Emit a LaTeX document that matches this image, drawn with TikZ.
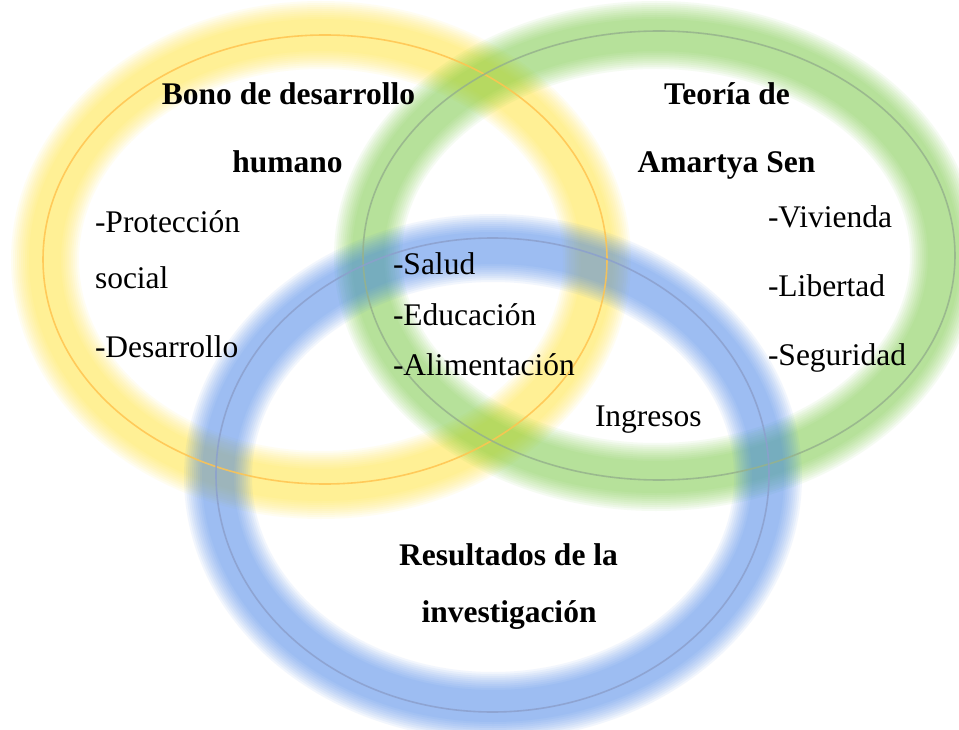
\documentclass[tikz,border=0pt]{standalone}
\usepackage{fontspec}
\setmainfont{Liberation Serif}
\definecolor{ylwglow}{RGB}{255,230,40}
\definecolor{grnglow}{RGB}{110,200,50}
\definecolor{bluglow}{RGB}{55,125,235}
\definecolor{ylwline}{RGB}{255,196,80}
\definecolor{grnline}{RGB}{150,178,140}
\definecolor{bluline}{RGB}{140,160,205}
\tikzset{
  txt/.style={inner sep=0pt, outer sep=0pt, font=\fontsize{31.5}{36}\selectfont},
  ttl/.style={txt, font=\fontsize{31.5}{36}\selectfont\bfseries, anchor=base},
  itm/.style={txt, anchor=base west},
  ringline/.style={line width=1.6pt, draw opacity=0.85}
}
\newcommand{\glowring}[5]{%
  \foreach \w in {68,64,...,32}{
    \draw[line width=\w pt, #1, draw opacity=0.064] (#2,#3) ellipse [x radius=#4, y radius=#5];
  }%
}
\begin{document}
\begin{tikzpicture}[x=1pt,y=-1pt]
\useasboundingbox (0,0) rectangle (959,730);
\fill[white] (0,0) rectangle (959,730);
% glows
\glowring{ylwglow}{321}{260}{276}{225}
\glowring{grnglow}{656}{256}{288}{221}
\glowring{bluglow}{493}{477}{275}{229}
% thin lines
\draw[ringline, ylwline] (325,259.5) ellipse [x radius=282, y radius=224.5];
\draw[ringline, grnline] (659,255.5) ellipse [x radius=296, y radius=224.5];
\draw[ringline, bluline] (492.5,475) ellipse [x radius=276.5, y radius=237];
% texts
\node[ttl] (bono1) at (288.5,105) {Bono de desarrollo};
\node[ttl] (bono2) at (287.5,173) {humano};
\node[itm] (prot) at (95,233) {-Protección};
\node[itm] (social) at (95,288) {social};
\node[itm] (desa) at (95,357) {-Desarrollo};
\node[itm] (salud) at (393,275) {-Salud};
\node[itm] (educ) at (393,325) {-Educación};
\node[itm] (alim) at (393,375) {-Alimentación};
\node[ttl] (teo1) at (727,105) {Teoría de};
\node[ttl] (teo2) at (726.5,173) {Amartya Sen};
\node[itm] (viv) at (768,228) {-Vivienda};
\node[itm] (lib) at (768,297) {-Libertad};
\node[itm] (seg) at (768,365) {-Seguridad};
\node[itm] (ing) at (595,426) {Ingresos};
\node[ttl] (res1) at (508.5,565) {Resultados de la};
\node[ttl] (res2) at (509,622) {investigación};
\end{tikzpicture}
\end{document}
